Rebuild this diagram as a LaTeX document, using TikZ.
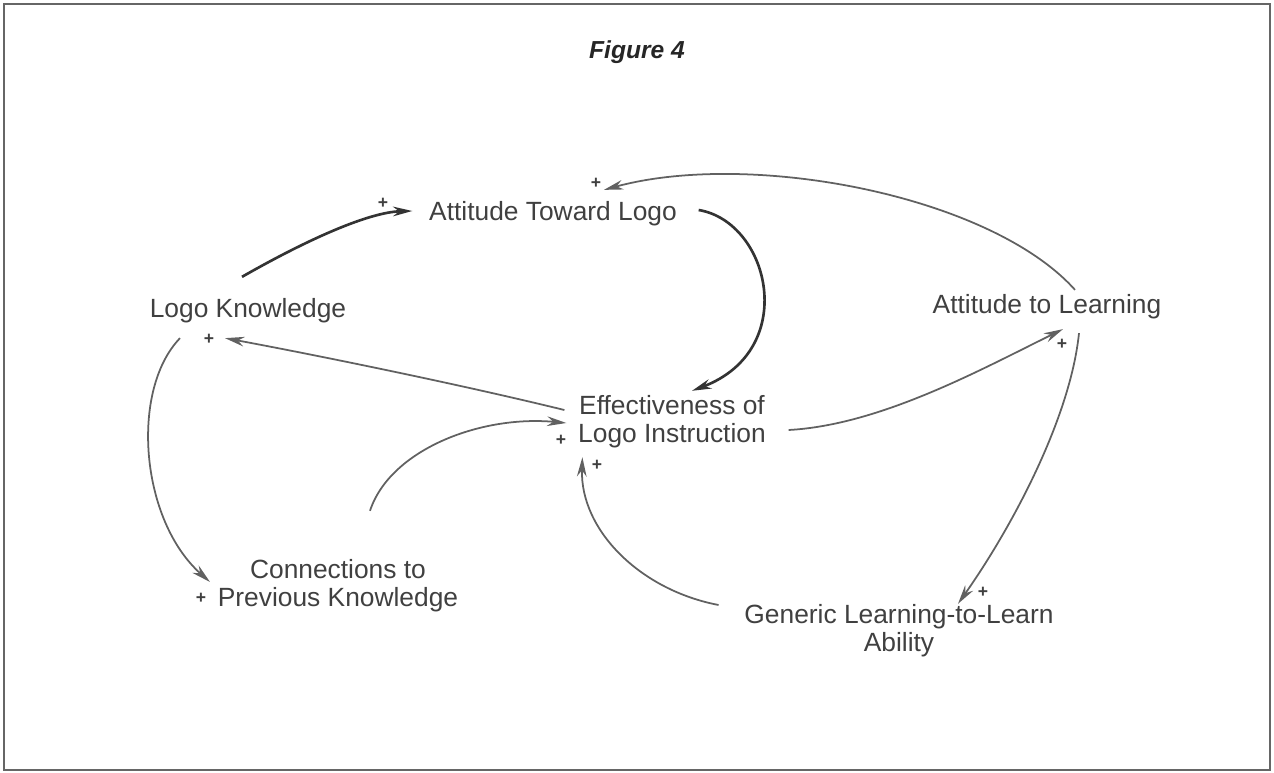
\documentclass[tikz,border=0pt]{standalone}
\usepackage{fontspec}
\setmainfont{Liberation Sans}
\usetikzlibrary{arrows.meta}
\tikzset{
  var/.style={text=black!75, font=\fontsize{15}{16}\selectfont, align=center, inner sep=2pt},
  title/.style={text=black!85, font=\fontsize{14}{16}\selectfont\bfseries\itshape},
  plus/.style={text=black!75, font=\fontsize{10}{10}\selectfont\bfseries, inner sep=0pt},
  link/.style={draw=black!62, line width=1pt, -{Stealth[length=11pt,width=5.5pt]}},
  heavy/.style={link, draw=black!80, line width=1.5pt},
}
\begin{document}
\begin{tikzpicture}[x=0.02cm, y=-0.02cm]
      \useasboundingbox (0,0) rectangle (1274,773);
      \draw[black!60, line width=0.9pt] (4,4) rectangle (1270,770);
      \draw
        (637,52) node[title] (fig){Figure 4}
        (553,214) node[var] (atl){Attitude Toward Logo}
        (248,311) node[var] (lk){Logo Knowledge}
        (1047,307) node[var] (al){Attitude to Learning}
        (672,422) node[var] (eli){Effectiveness of\\Logo Instruction}
        (338,586) node[var] (cpk){Connections to\\Previous Knowledge}
        (899,631) node[var] (gla){Generic Learning-to-Learn\\Ability};
      % polarity signs
      \draw
        (383,203) node[plus] (p1){+}
        (596,183) node[plus] (p2){+}
        (209,339) node[plus] (p3){+}
        (1062,344) node[plus] (p4){+}
        (983,592) node[plus] (p5){+}
        (201,598) node[plus] (p6){+}
        (561,440) node[plus] (p7){+}
        (597,465) node[plus] (p8){+};
      \begin{scope}[link]
        \draw[heavy] ([shift={(-6,-18)}]lk.north) .. controls (310,238) and (370,212) .. ([shift={(-13,-3)}]atl.west);
        \draw ([shift={(28,-1)}]al.north) .. controls (990,195) and (750,150) .. ([shift={(51,-8)}]atl.north);
        \draw[heavy] ([shift={(18,-4)}]atl.east) .. controls (770,222) and (800,350) .. ([shift={(20,-1)}]eli.north);
        \draw ([shift={(-10,-12)}]eli.west) .. controls (450,382) and (300,352) .. ([shift={(-23,11)}]lk.south);
        \draw ([shift={(19,8)}]eli.east) .. controls (880,425) and (980,370) .. ([shift={(16,6)}]al.south);
        \draw ([shift={(32,10)}]al.south) .. controls (1070,420) and (1010,530) .. ([shift={(59,3)}]gla.north);
        \draw ([shift={(-68,11)}]lk.south) .. controls (130,390) and (140,520) .. ([shift={(-4,-4)}]cpk.west);
        \draw ([shift={(32,-45)}]cpk.north) .. controls (390,450) and (480,415) .. ([shift={(-8,1)}]eli.west);
        \draw ([shift={(-22,-26)}]gla.west) .. controls (640,590) and (580,530) .. ([shift={(8,5)}]eli.south west);
      \end{scope}
    \end{tikzpicture}
\end{document}
